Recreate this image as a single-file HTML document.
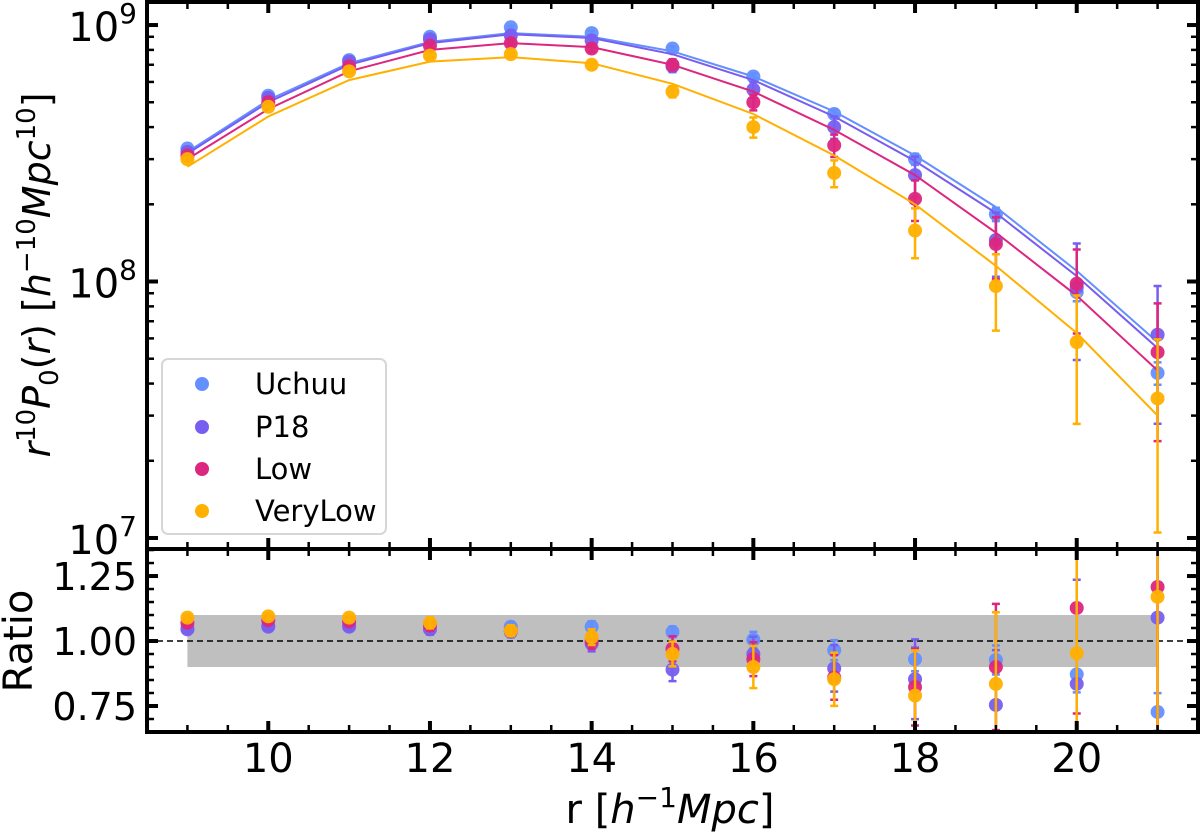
<!DOCTYPE html>
<html><head><meta charset="utf-8"><style>
html,body{margin:0;padding:0;background:#fff}
svg{display:block;font-family:"DejaVu Sans","Liberation Sans",sans-serif}
</style></head><body>
<svg id="chart" width="1200" height="833" viewBox="0 0 1200 833" xmlns="http://www.w3.org/2000/svg">
<g id="topPanel"></g>
<g id="botPanel"></g>
<text x="0" y="0" transform="translate(50,275) rotate(-90)" text-anchor="middle" font-size="38"><tspan font-style="italic">r</tspan><tspan font-size="26" dy="-15">10</tspan><tspan font-style="italic" dy="15">P</tspan><tspan font-size="26" dy="8">0</tspan><tspan dy="-8">(</tspan><tspan font-style="italic">r</tspan><tspan>) [</tspan><tspan font-style="italic">h</tspan><tspan font-size="26" dy="-15">−10</tspan><tspan font-style="italic" dy="15">Mpc</tspan><tspan font-size="26" dy="-15">10</tspan><tspan dy="15">]</tspan></text>
<text transform="translate(32,641) rotate(-90)" text-anchor="middle" font-size="40">Ratio</text>
<text x="670" y="823" text-anchor="middle" font-size="40">r [<tspan font-style="italic">h</tspan><tspan font-size="28" dy="-16">−1</tspan><tspan font-style="italic" dy="16">Mpc</tspan>]</text>
<g>
<rect x="162" y="359" width="224" height="175" rx="6" fill="#fff" fill-opacity="0.8" stroke="#d6d6d6" stroke-width="2"/>
<circle cx="202" cy="384" r="7" fill="#648FFF"/>
<text x="255" y="394" font-size="29">Uchuu</text>
<circle cx="202" cy="427" r="7" fill="#785EF0"/>
<text x="255" y="437" font-size="29">P18</text>
<circle cx="202" cy="469" r="7" fill="#DC267F"/>
<text x="255" y="479" font-size="29">Low</text>
<circle cx="202" cy="511" r="7" fill="#FFB000"/>
<text x="255" y="521" font-size="29">VeryLow</text>
</g>
</svg>
<script>
const radii = [9,10,11,12,13,14,15,16,17,18,19,20,21];
const seriesNames = ["Uchuu","P18","Low","VeryLow"];
const seriesColors = ["#648FFF","#785EF0","#DC267F","#FFB000"];
const ptsUchuu = [3.3e8,5.3e8,7.3e8,9.0e8,9.8e8,9.3e8,8.1e8,6.3e8,4.5e8,3.0e8,1.83e8,9.1e7,4.4e7];
const ptsP18 = [3.2e8,5.2e8,7.2e8,8.8e8,9.1e8,8.7e8,6.9e8,5.6e8,4.0e8,2.6e8,1.45e8,9.5e7,6.2e7];
const ptsLow = [3.1e8,5.0e8,6.9e8,8.3e8,8.5e8,8.1e8,7.0e8,5.0e8,3.4e8,2.1e8,1.4e8,9.8e7,5.3e7];
const ptsVeryLow = [3.0e8,4.8e8,6.6e8,7.6e8,7.7e8,7.0e8,5.5e8,4.0e8,2.65e8,1.58e8,9.6e7,5.8e7,3.5e7];
const lineUchuu = [3.2e8,5.1e8,7.1e8,8.6e8,9.3e8,9.0e8,7.9e8,6.3e8,4.6e8,3.1e8,1.95e8,1.1e8,5.8e7];
const lineP18 = [3.15e8,5.0e8,7.0e8,8.5e8,9.2e8,8.9e8,7.7e8,6.1e8,4.4e8,2.95e8,1.85e8,1.05e8,5.5e7];
const lineLow = [3.0e8,4.7e8,6.6e8,8.0e8,8.5e8,8.2e8,7.0e8,5.5e8,3.9e8,2.6e8,1.55e8,8.8e7,4.5e7];
const lineVeryLow = [2.8e8,4.4e8,6.1e8,7.2e8,7.5e8,7.1e8,5.9e8,4.5e8,3.1e8,2.0e8,1.15e8,6.3e7,3.0e7];
const relErrUchuu = [0.01,0.01,0.01,0.015,0.015,0.02,0.02,0.03,0.04,0.05,0.06,0.08,0.1];
const relErrP18 = [0.01,0.01,0.01,0.02,0.02,0.03,0.05,0.07,0.1,0.18,0.28,0.48,0.55];
const relErrLow = [0.01,0.01,0.01,0.02,0.02,0.03,0.05,0.07,0.1,0.18,0.27,0.36,0.55];
const relErrVeryLow = [0.01,0.01,0.01,0.02,0.02,0.03,0.05,0.09,0.12,0.22,0.33,0.52,0.7];
const ratioUchuu = [1.05,1.06,1.06,1.06,1.055,1.055,1.035,1.005,0.965,0.93,0.927,0.872,0.727];
const ratioP18 = [1.045,1.055,1.055,1.045,1.035,0.99,0.89,0.95,0.895,0.853,0.754,0.835,1.09];
const ratioLow = [1.07,1.08,1.075,1.06,1.04,1.0,0.97,0.93,0.86,0.823,0.90,1.127,1.208];
const ratioVeryLow = [1.09,1.095,1.09,1.07,1.04,1.015,0.95,0.90,0.853,0.79,0.835,0.953,1.17];
const xTickLabels = ["10","12","14","16","18","20"];
const ratioTickLabels = ["0.75","1.00","1.25"];

const NS = "http://www.w3.org/2000/svg";
const X0 = 147, X1 = 1198, TY0 = 2, TY1 = 549, BY1 = 732;
const xMin = 8.5, xMax = 21.5;
function xs(r){ return X0 + (r - xMin) / (xMax - xMin) * (X1 - X0); }
const lMax = 9 + 23/256, lMin = 7 - 11/256;
function ysTop(v){ return TY0 + (lMax - Math.log10(v)) / (lMax - lMin) * (TY1 - TY0); }
const rMin = 0.65, rMax = 1.354;
function ysBot(v){ return TY1 + (rMax - v) / (rMax - rMin) * (BY1 - TY1); }
function mk(tag, attrs, parent){ const e = document.createElementNS(NS, tag); for (const k in attrs) e.setAttribute(k, attrs[k]); parent.appendChild(e); return e; }

const topG = document.getElementById('topPanel');
const botG = document.getElementById('botPanel');
const pts = [ptsUchuu, ptsP18, ptsLow, ptsVeryLow];
const lines = [lineUchuu, lineP18, lineLow, lineVeryLow];
const errs = [relErrUchuu, relErrP18, relErrLow, relErrVeryLow];
const ratios = [ratioUchuu, ratioP18, ratioLow, ratioVeryLow];
const svgEl = document.getElementById('chart');

const defs = mk('defs', {}, svgEl);
const c1 = mk('clipPath', {id:'ct'}, defs); mk('rect', {x:X0, y:TY0, width:X1-X0, height:TY1-TY0}, c1);
const c2 = mk('clipPath', {id:'cb'}, defs); mk('rect', {x:X0, y:TY1, width:X1-X0, height:BY1-TY1}, c2);

const band = mk('rect', {x:xs(radii[0]), y:ysBot(1.1), width:xs(radii[radii.length-1])-xs(radii[0]), height:ysBot(0.9)-ysBot(1.1), fill:'#bfbfbf'}, botG);


const dl = mk('line', {x1:X0, x2:X1, y1:ysBot(1), y2:ysBot(1), stroke:'#000', 'stroke-width':1.5, 'stroke-dasharray':'6,4'}, botG);



const gT = mk('g', {'clip-path':'url(#ct)'}, topG);
const gB = mk('g', {'clip-path':'url(#cb)'}, botG);

for (let s = 0; s < 4; s++) {
  const col = seriesColors[s];
  const nm = seriesNames[s].toLowerCase();
  const d = radii.map((r,i)=> (i?'L':'M') + xs(r).toFixed(1) + ',' + ysTop(lines[s][i]).toFixed(1)).join('');
  const pl = mk('path', {d:d, fill:'none', stroke:col, 'stroke-width':2}, gT);
  
  
  for (let i = 0; i < radii.length; i++) {
    const x = xs(radii[i]);
    const v = pts[s][i], e = errs[s][i];
    const lo = Math.max(v*(1-e), 1e6), hi = v*(1+e);
    const eb = mk('path', {d:`M${x},${ysTop(lo)}V${ysTop(hi)}M${x-4},${ysTop(lo)}h8M${x-4},${ysTop(hi)}h8`, stroke:col, 'stroke-width':2.5, fill:'none'}, gT);
    
    
    const c = mk('circle', {cx:x, cy:ysTop(v), r:7, fill:col, 'fill-opacity':0.95}, gT);
    
    
    const rv = ratios[s][i], re = errs[s][i]*rv;
    const eb2 = mk('path', {d:`M${x},${ysBot(rv-re)}V${ysBot(rv+re)}M${x-4},${ysBot(rv-re)}h8M${x-4},${ysBot(rv+re)}h8`, stroke:col, 'stroke-width':2.5, fill:'none'}, gB);
    
    
    const c2e = mk('circle', {cx:x, cy:ysBot(rv), r:7, fill:col, 'fill-opacity':0.95}, gB);
    
    
  }
}

const ax = mk('g', {stroke:'#000', fill:'none'}, svgEl);


function tk(x1,y1,x2,y2,w){ mk('line',{x1:x1,y1:y1,x2:x2,y2:y2,'stroke-width':w},ax); }
for (let r = 9; r <= 21.01; r += 0.5) {
  const x = xs(r), major = Math.abs(r % 2) < 1e-6;
  const L = major ? 11 : 7, w = major ? 4 : 2.5;
  tk(x,TY0,x,TY0+L,w); tk(x,TY1,x,TY1-L,w); tk(x,TY1,x,TY1+L,w); tk(x,BY1,x,BY1-L,w);
}
for (let k = 6; k <= 9; k++) for (let m = 1; m <= 9; m++) {
  const v = m*Math.pow(10,k); const y = ysTop(v);
  if (y < TY0+1 || y > TY1-1) continue;
  const L = m===1 ? 11 : 7, w = m===1 ? 4 : 2.5;
  tk(X0,y,X0+L,y,w); tk(X1,y,X1-L,y,w);
}
for (let j = 0; j <= 14; j++) {
  const v = 0.65 + j*0.05;
  const y = ysBot(v);
  const cents = Math.round(v*100);
  const major = cents % 25 === 0;
  if (y < TY1+1 || y > BY1-1) continue;
  const L = major ? 11 : 7, w = major ? 4 : 2.5;
  tk(X0,y,X0+L,y,w); tk(X1,y,X1-L,y,w);
}
mk('rect',{x:X0,y:TY0,width:X1-X0,height:TY1-TY0,'stroke-width':4},ax);
mk('rect',{x:X0,y:TY1,width:X1-X0,height:BY1-TY1,'stroke-width':4},ax);

xTickLabels.forEach((t)=>{
  const el = mk('text',{x:xs(parseFloat(t)), y:772, 'text-anchor':'middle', 'font-size':40}, svgEl);
  el.textContent = t;
  
  
});
[9,8,7].forEach((k)=>{
  const el = mk('text',{x:137, y:ysTop(Math.pow(10,k))+16, 'text-anchor':'end', 'font-size':40}, svgEl);
  const a = mk('tspan', {}, el); a.textContent = '10';
  const b = mk('tspan', {'font-size':28, dy:-18}, el); b.textContent = String(k);
  
  
});
ratioTickLabels.forEach((t)=>{
  const el = mk('text',{x:137, y:ysBot(parseFloat(t))+14, 'text-anchor':'end', 'font-size':38}, svgEl);
  el.textContent = t;
  
  
});
</script>
</body></html>
